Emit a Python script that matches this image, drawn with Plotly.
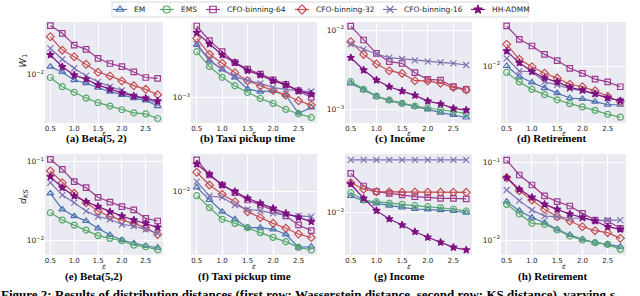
import plotly.graph_objects as go

# ---------------- data ----------------
EPS = [0.5, 0.75, 1.0, 1.25, 1.5, 1.75, 2.0, 2.25, 2.5, 2.75]
X_TICKS = [0.5, 1.0, 1.5, 2.0, 2.5]
X_TICK_TEXT = ["0.5", "1.0", "1.5", "2.0", "2.5"]
METHODS = ["EM", "EMS", "CFO-binning-64", "CFO-binning-32", "CFO-binning-16", "HH-ADMM"]
CAPTIONS = ["(a) Beta(5, 2)", "(b) Taxi pickup time", "(c) Income", "(d) Retirement",
            "(e) Beta(5,2)", "(f) Taxi pickup time", "(g) Income", "(h) Retirement"]

# (a) Beta(5,2), W1
A_EM = [0.0122, 0.0105, 0.0085, 0.0078, 0.0069, 0.0062, 0.0057, 0.0052, 0.0049, 0.0042]
A_EMS = [0.0091, 0.0071, 0.0061, 0.0052, 0.0046, 0.0042, 0.0038, 0.0035, 0.0034, 0.0030]
A_C64 = [0.0371, 0.0301, 0.0219, 0.0195, 0.0153, 0.0133, 0.0122, 0.0106, 0.0091, 0.0089]
A_C32 = [0.0275, 0.0191, 0.0160, 0.0130, 0.0105, 0.0095, 0.0083, 0.0073, 0.0066, 0.0057]
A_C16 = [0.0200, 0.0149, 0.0117, 0.0095, 0.0081, 0.0071, 0.0064, 0.0055, 0.0051, 0.0045]
A_HH = [0.0168, 0.0122, 0.0097, 0.0087, 0.0074, 0.0066, 0.0060, 0.0055, 0.0052, 0.0048]
# (b) Taxi pickup time, W1
B_EM = [0.00413, 0.00270, 0.00213, 0.00172, 0.00125, 0.00117, 0.00119, 0.00106, 0.00065, 0.00076]
B_EMS = [0.00344, 0.00230, 0.00172, 0.00137, 0.00114, 0.00097, 0.00085, 0.00072, 0.00064, 0.00058]
B_C64 = [0.00690, 0.00465, 0.00344, 0.00256, 0.00215, 0.00187, 0.00160, 0.00142, 0.00119, 0.00100]
B_C32 = [0.00494, 0.00321, 0.00251, 0.00195, 0.00157, 0.00136, 0.00120, 0.00106, 0.00091, 0.00081]
B_C16 = [0.00424, 0.00275, 0.00213, 0.00175, 0.00157, 0.00146, 0.00130, 0.00125, 0.00119, 0.00117]
B_HH = [0.00577, 0.00424, 0.00315, 0.00256, 0.00206, 0.00183, 0.00156, 0.00140, 0.00119, 0.00109]
# (c) Income, W1
C_EM = [0.00213, 0.00175, 0.00145, 0.00129, 0.00119, 0.00108, 0.00100, 0.00091, 0.00085, 0.00079]
C_EMS = [0.00223, 0.00179, 0.00147, 0.00131, 0.00119, 0.00110, 0.00104, 0.00098, 0.00094, 0.00089]
C_C64 = [0.01122, 0.00748, 0.00508, 0.00399, 0.00380, 0.00290, 0.00239, 0.00234, 0.00193, 0.00179]
C_C32 = [0.00713, 0.00493, 0.00373, 0.00307, 0.00284, 0.00230, 0.00228, 0.00213, 0.00189, 0.00175]
C_C16 = [0.00667, 0.00571, 0.00498, 0.00448, 0.00431, 0.00415, 0.00399, 0.00391, 0.00380, 0.00362]
C_HH = [0.00448, 0.00313, 0.00234, 0.00193, 0.00170, 0.00150, 0.00127, 0.00117, 0.00103, 0.00098]
# (d) Retirement, W1
D_EM = [0.0100, 0.0075, 0.0064, 0.0055, 0.0048, 0.0042, 0.0041, 0.0038, 0.0035, 0.0035]
D_EMS = [0.0084, 0.0065, 0.0053, 0.0046, 0.0040, 0.0036, 0.0033, 0.0030, 0.0027, 0.0025]
D_C64 = [0.0296, 0.0206, 0.0172, 0.0137, 0.0116, 0.0094, 0.0082, 0.0070, 0.0065, 0.0057]
D_C32 = [0.0180, 0.0120, 0.0098, 0.0082, 0.0072, 0.0061, 0.0057, 0.0051, 0.0044, 0.0038]
D_C16 = [0.0123, 0.0087, 0.0086, 0.0065, 0.0060, 0.0054, 0.0051, 0.0047, 0.0042, 0.0039]
D_HH = [0.0150, 0.0109, 0.0086, 0.0072, 0.0065, 0.0056, 0.0052, 0.0047, 0.0042, 0.0039]
# (e) Beta(5,2), KS
E_EM = [0.0394, 0.0246, 0.0202, 0.0175, 0.0141, 0.0116, 0.0100, 0.0091, 0.0084, 0.0080]
E_EMS = [0.0223, 0.0180, 0.0155, 0.0134, 0.0114, 0.0105, 0.0098, 0.0086, 0.0082, 0.0075]
E_C64 = [0.1072, 0.0798, 0.0556, 0.0466, 0.0351, 0.0305, 0.0267, 0.0242, 0.0189, 0.0175]
E_C32 = [0.0760, 0.0540, 0.0394, 0.0300, 0.0234, 0.0199, 0.0180, 0.0163, 0.0144, 0.0118]
E_C16 = [0.0540, 0.0375, 0.0300, 0.0234, 0.0199, 0.0184, 0.0158, 0.0151, 0.0137, 0.0122]
E_HH = [0.0644, 0.0466, 0.0365, 0.0308, 0.0267, 0.0230, 0.0202, 0.0180, 0.0163, 0.0145]
# (f) Taxi pickup time, KS
F_EM = [0.01124, 0.00798, 0.00582, 0.00473, 0.00377, 0.00377, 0.00361, 0.00315, 0.00221, 0.00225]
F_EMS = [0.00897, 0.00648, 0.00473, 0.00424, 0.00377, 0.00330, 0.00290, 0.00258, 0.00221, 0.00206]
F_C64 = [0.0236, 0.0157, 0.01197, 0.00973, 0.00798, 0.00697, 0.00597, 0.00518, 0.00406, 0.00348]
F_C32 = [0.01687, 0.01197, 0.00931, 0.00762, 0.00582, 0.00494, 0.00424, 0.00371, 0.00318, 0.00288]
F_C16 = [0.01312, 0.00889, 0.00858, 0.00697, 0.00619, 0.00597, 0.00556, 0.00531, 0.00518, 0.00508]
F_HH = [0.0211, 0.0160, 0.01197, 0.0100, 0.00835, 0.00729, 0.00637, 0.00556, 0.00499, 0.00444]
# (g) Income, KS
G_EM = [0.01571, 0.01371, 0.01288, 0.01208, 0.01156, 0.01104, 0.01094, 0.01074, 0.01046, 0.0100]
G_EMS = [0.01718, 0.01409, 0.01345, 0.01288, 0.01253, 0.01208, 0.01176, 0.01145, 0.01104, 0.01046]
G_C64 = [0.0290, 0.0206, 0.01766, 0.01687, 0.01615, 0.01542, 0.01513, 0.01476, 0.01476, 0.01449]
G_C32 = [0.02254, 0.01885, 0.01766, 0.01750, 0.01740, 0.01745, 0.01740, 0.01735, 0.01740, 0.01735]
G_C16 = [0.0417, 0.0417, 0.0417, 0.0417, 0.0417, 0.0417, 0.0417, 0.0417, 0.0417, 0.0417]
G_HH = [0.02173, 0.01476, 0.01056, 0.00842, 0.00716, 0.00597, 0.00513, 0.00448, 0.00391, 0.00364]
# (h) Retirement, KS
H_EM = [0.0313, 0.0239, 0.0195, 0.01675, 0.01374, 0.01161, 0.0102, 0.00924, 0.00879, 0.0082]
H_EMS = [0.0289, 0.0217, 0.01643, 0.01595, 0.01346, 0.01127, 0.0100, 0.00924, 0.00879, 0.00757]
H_C64 = [0.1081, 0.0693, 0.0514, 0.0371, 0.0313, 0.0275, 0.0221, 0.0181, 0.0176, 0.01415]
H_C32 = [0.0640, 0.0434, 0.0329, 0.0249, 0.0200, 0.0176, 0.01486, 0.01321, 0.01245, 0.01051]
H_C16 = [0.0443, 0.0323, 0.0244, 0.0204, 0.0200, 0.0191, 0.0191, 0.0178, 0.0181, 0.0181]
H_HH = [0.0640, 0.0452, 0.0356, 0.0289, 0.0249, 0.0217, 0.0195, 0.0176, 0.01486, 0.01374]

Y_TICKS = [[1e-2], [1e-3], [1e-3, 1e-2], [1e-2], [1e-2, 1e-1], [1e-2], [1e-2], [1e-2, 1e-1]]
Y_TICK_TEXT = [["10<sup>\u22122</sup>"], ["10<sup>\u22123</sup>"],
               ["10<sup>\u22123</sup>", "10<sup>\u22122</sup>"], ["10<sup>\u22122</sup>"],
               ["10<sup>\u22122</sup>", "10<sup>\u22121</sup>"], ["10<sup>\u22122</sup>"],
               ["10<sup>\u22122</sup>"], ["10<sup>\u22122</sup>", "10<sup>\u22121</sup>"]]

PANELS = [
    [A_EM, A_EMS, A_C64, A_C32, A_C16, A_HH],
    [B_EM, B_EMS, B_C64, B_C32, B_C16, B_HH],
    [C_EM, C_EMS, C_C64, C_C32, C_C16, C_HH],
    [D_EM, D_EMS, D_C64, D_C32, D_C16, D_HH],
    [E_EM, E_EMS, E_C64, E_C32, E_C16, E_HH],
    [F_EM, F_EMS, F_C64, F_C32, F_C16, F_HH],
    [G_EM, G_EMS, G_C64, G_C32, G_C16, G_HH],
    [H_EM, H_EMS, H_C64, H_C32, H_C16, H_HH],
]

# ---------------- styles / layout ----------------
W, H = 640, 296
COLORS = ["#4C72B0", "#55A868", "#9B3A8E", "#C44E52", "#8172B2", "#7E1180"]
SYMBOLS = ["triangle-up-open", "circle-open", "square-open", "diamond-open", "x-thin-open", "star"]
SIZES = [6, 6, 5.5, 6, 6, 5.5]
Y_RANGES = [(-2.576, -1.388), (-3.302, -2.114), (-3.172, -1.899), (-2.671, -1.482),
            (-2.191, -0.902), (-2.745, -1.557), (-2.498, -1.310), (-2.194, -0.888)]
COLS = [(45, 163), (191, 317), (345, 472), (501, 626)]
ROWS = [(22, 123), (154, 255)]
CAP_X = [96, 247, 400, 551, 94, 244, 399, 552]
CAP_Y = [138.5, 276]
EPS_Y = [133.5, 266]
TXT = "#262626"


def fx(p):
    return p / W


def fy(p):
    return 1 - p / H


fig = go.Figure()
shapes = []
annotations = []
layout = dict(width=W, height=H, margin=dict(l=0, r=0, t=0, b=0),
              paper_bgcolor="white", plot_bgcolor="rgba(0,0,0,0)", showlegend=False,
              font=dict(family="DejaVu Sans", color=TXT))

for i, series in enumerate(PANELS):
    n = i + 1
    sfx = "" if n == 1 else str(n)
    r, c = divmod(i, 4)
    x0, x1 = COLS[c]
    y0, y1 = ROWS[r]
    layout["xaxis" + sfx] = dict(
        domain=[fx(x0), fx(x1)], anchor="y" + sfx, range=[0.3875, 2.8625],
        tickvals=X_TICKS, ticktext=X_TICK_TEXT, showgrid=True, gridcolor="white",
        gridwidth=1, zeroline=False, showline=False, ticks="",
        tickfont=dict(size=7, color=TXT), fixedrange=True)
    layout["yaxis" + sfx] = dict(
        domain=[fy(y1), fy(y0)], anchor="x" + sfx, type="log", range=list(Y_RANGES[i]),
        tickvals=Y_TICKS[i], ticktext=Y_TICK_TEXT[i], showgrid=True, gridcolor="white",
        gridwidth=1, zeroline=False, showline=False, ticks="",
        tickfont=dict(size=7.5, color=TXT), fixedrange=True)
    shapes.append(dict(type="rect", xref="x" + sfx + " domain", yref="y" + sfx + " domain",
                       x0=0, x1=1, y0=0, y1=1, fillcolor="#EAEAF2", line=dict(width=0),
                       layer="below"))
    for k, vals in enumerate(series):
        fig.add_trace(go.Scatter(
            x=EPS, y=vals, xaxis="x" + sfx, yaxis="y" + sfx, mode="lines+markers",
            name=METHODS[k], line=dict(color=COLORS[k], width=1.2),
            marker=dict(symbol=SYMBOLS[k], size=SIZES[k], color=COLORS[k],
                        line=dict(color=COLORS[k], width=1.2))))
    annotations.append(dict(text="<b>" + CAPTIONS[i] + "</b>", x=fx(CAP_X[i]), y=fy(CAP_Y[r]),
                            xref="paper", yref="paper", showarrow=False, xanchor="center",
                            yanchor="middle",
                            font=dict(family="Liberation Serif", size=11, color="black")))
    annotations.append(dict(text="<i>\u03b5</i>", x=fx((x0 + x1) / 2), y=fy(EPS_Y[r]),
                            xref="paper", yref="paper", showarrow=False, xanchor="center",
                            yanchor="middle", font=dict(size=7.5, color=TXT)))

# y axis titles
annotations.append(dict(text="<i>W</i><sub>1</sub>", x=fx(15), y=fy(52), xref="paper",
                        yref="paper", showarrow=False, textangle=-90,
                        font=dict(size=9.5, color=TXT)))
annotations.append(dict(text="<i>d</i><sub><i>KS</i></sub>", x=fx(15), y=fy(206),
                        xref="paper", yref="paper", showarrow=False, textangle=-90,
                        font=dict(size=9.5, color=TXT)))

# figure caption (cut by the bottom edge)
annotations.append(dict(
    text="<b>Figure 2: Results of distribution distances (first row: Wasserstein distance, "
         "second row: KS distance), varying <i>\u03b5</i></b>",
    x=fx(-1), y=fy(294.5), xref="paper", yref="paper", showarrow=False,
    xanchor="left", yanchor="middle",
    font=dict(family="Liberation Serif", size=13.0, color="black")))

# legend (drawn on an invisible pixel-unit axis)
LEG_CX = [120, 166.7, 213, 302, 390, 478]
LEG_Y = 9.5
layout["xaxis9"] = dict(domain=[0, 1], anchor="y9", range=[0, W], visible=False, fixedrange=True)
layout["yaxis9"] = dict(domain=[0, 1], anchor="x9", range=[H, 0], visible=False, fixedrange=True)
shapes.append(dict(type="rect", xref="paper", yref="paper", x0=fx(112), x1=fx(528),
                   y0=fy(17), y1=fy(2), fillcolor="white",
                   line=dict(color="#d0d0d0", width=0.8), layer="below"))
for k, m in enumerate(METHODS):
    cx = LEG_CX[k]
    fig.add_trace(go.Scatter(x=[cx - 7, cx + 7], y=[LEG_Y, LEG_Y], xaxis="x9", yaxis="y9",
                             mode="lines", line=dict(color=COLORS[k], width=1.2),
                             hoverinfo="skip"))
    fig.add_trace(go.Scatter(x=[cx], y=[LEG_Y], xaxis="x9", yaxis="y9", mode="markers",
                             marker=dict(symbol=SYMBOLS[k], size=SIZES[k] + 1, color=COLORS[k],
                                         line=dict(color=COLORS[k], width=1.2)),
                             hoverinfo="skip"))
    annotations.append(dict(text=m, x=fx(cx + 12), y=fy(LEG_Y), xref="paper", yref="paper",
                            showarrow=False, xanchor="left", yanchor="middle",
                            font=dict(size=7.5, color=TXT)))

layout["shapes"] = shapes
layout["annotations"] = annotations
fig.update_layout(**layout)
fig.write_html("out.html", config={"displayModeBar": False},
               post_script="document.body.style.margin='0px';")
